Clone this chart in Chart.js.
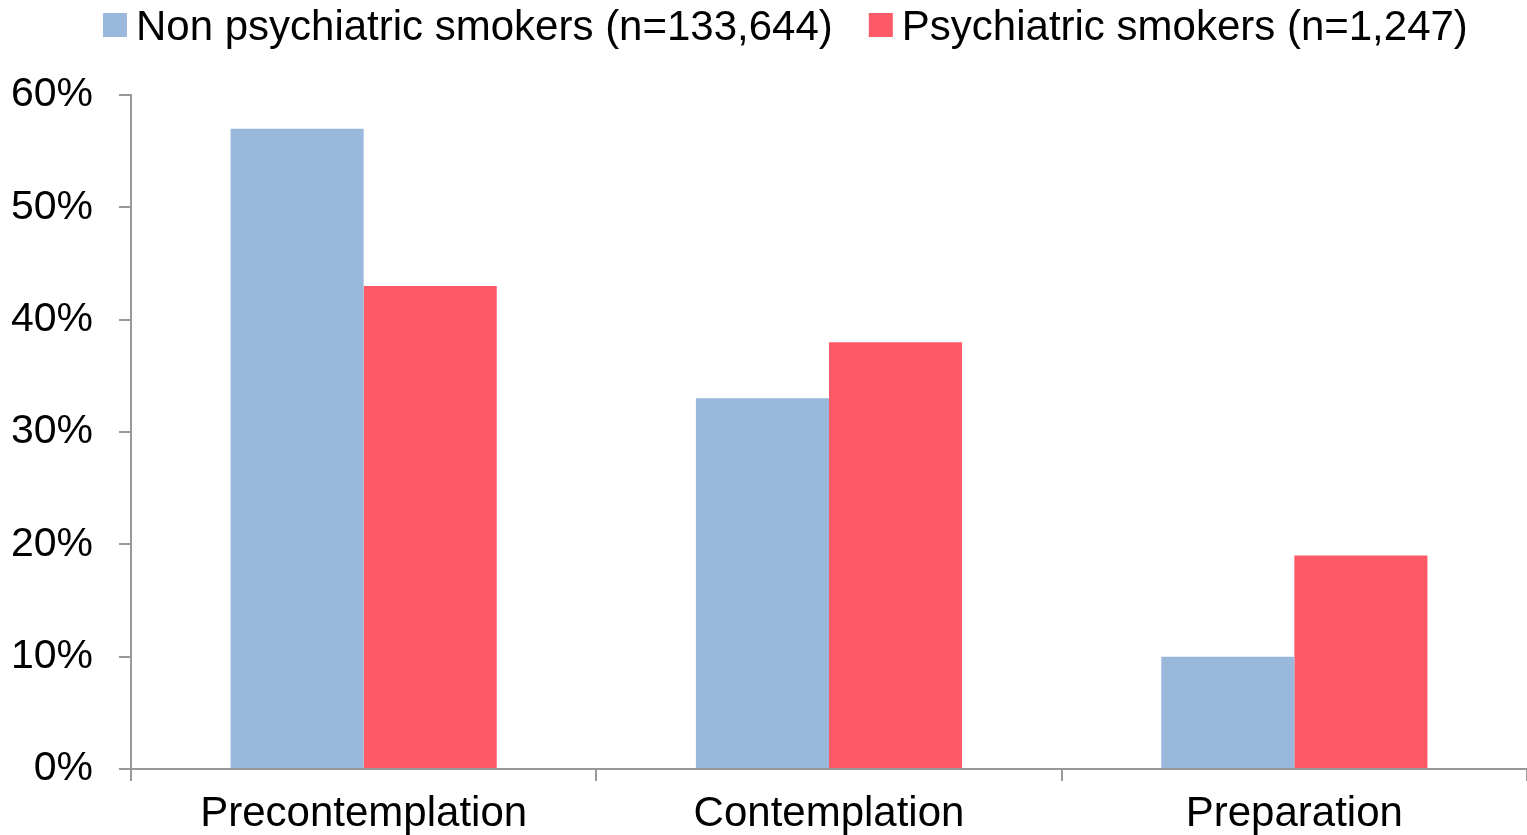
<!DOCTYPE html>
<html>
<head>
<meta charset="utf-8">
<script src="https://cdn.jsdelivr.net/npm/chart.js@4/dist/chart.umd.min.js"></script>
<style>
  html, body { margin: 0; padding: 0; background: #ffffff; }
  #wrap { width: 1527px; height: 835px; position: relative; }
</style>
</head>
<body>
<div id="wrap"><canvas id="c" width="1527" height="835"></canvas></div>
<script>
// Stages of change
const categories = ['Precontemplation', 'Contemplation', 'Preparation'];
const seriesNames = ['Non psychiatric smokers (n=133,644)', 'Psychiatric smokers (n=1,247)'];
const nonPsychiatric = [57, 33, 10];
const psychiatric = [43, 38, 19];
const yTicks = [0, 10, 20, 30, 40, 50, 60];

const FONT = '"Liberation Sans", Arial, sans-serif';
const colors = ['#9AB8DC', '#FF5A68'];

// Legend drawn across the top with square swatches
const topLegend = {
  id: 'topLegend',
  afterDraw(chart) {
    const ctx = chart.ctx;
    ctx.save();
    ctx.font = '42px ' + FONT;
    ctx.textBaseline = 'middle';
    ctx.textAlign = 'left';
    const box = 24, gap = 9, itemGap = 36;
    const widths = chart.data.datasets.map(ds => ctx.measureText(ds.label).width);
    let x = 103;
    const cy = 25;
    chart.data.datasets.forEach((ds, i) => {
      ctx.fillStyle = ds.backgroundColor;
      ctx.fillRect(x, cy - box / 2, box, box);
      ctx.fillStyle = '#000000';
      ctx.fillText(ds.label, x + box + gap, cy + 3);
      x += box + gap + widths[i] + itemGap;
    });
    ctx.restore();
  }
};

new Chart(document.getElementById('c'), {
  type: 'bar',
  data: {
    labels: categories,
    datasets: [
      { label: seriesNames[0], data: nonPsychiatric, backgroundColor: colors[0], borderWidth: 0 },
      { label: seriesNames[1], data: psychiatric, backgroundColor: colors[1], borderWidth: 0 }
    ]
  },
  options: {
    responsive: false,
    animation: false,
    devicePixelRatio: 1,
    layout: { padding: { top: 95, left: 0, right: 0, bottom: 0 } },
    datasets: { bar: { barPercentage: 1.0, categoryPercentage: 0.572 } },
    plugins: {
      legend: { display: false },
      tooltip: { enabled: false }
    },
    scales: {
      x: {
        afterFit(scale) { scale.height = 66; },
        grid: {
          offset: true,
          drawOnChartArea: false,
          drawTicks: true,
          tickLength: 12,
          color: '#9a9a9a',
          lineWidth: 2
        },
        border: { display: true, color: '#9a9a9a', width: 2 },
        ticks: {
          color: '#000000',
          padding: 8,
          font: { family: FONT, size: 42 },
          maxRotation: 0,
          autoSkip: false
        }
      },
      y: {
        min: 0,
        max: 60,
        afterFit(scale) { scale.width = 131; },
        afterBuildTicks(scale) { scale.ticks = yTicks.map(v => ({ value: v })); },
        grid: {
          drawOnChartArea: false,
          drawTicks: true,
          tickLength: 12,
          color: '#9a9a9a',
          lineWidth: 2
        },
        border: { display: true, color: '#9a9a9a', width: 2 },
        ticks: {
          color: '#000000',
          padding: 26,
          font: { family: FONT, size: 41 },
          callback: v => v + '%'
        }
      }
    }
  },
  plugins: [topLegend]
});
</script>
</body>
</html>
